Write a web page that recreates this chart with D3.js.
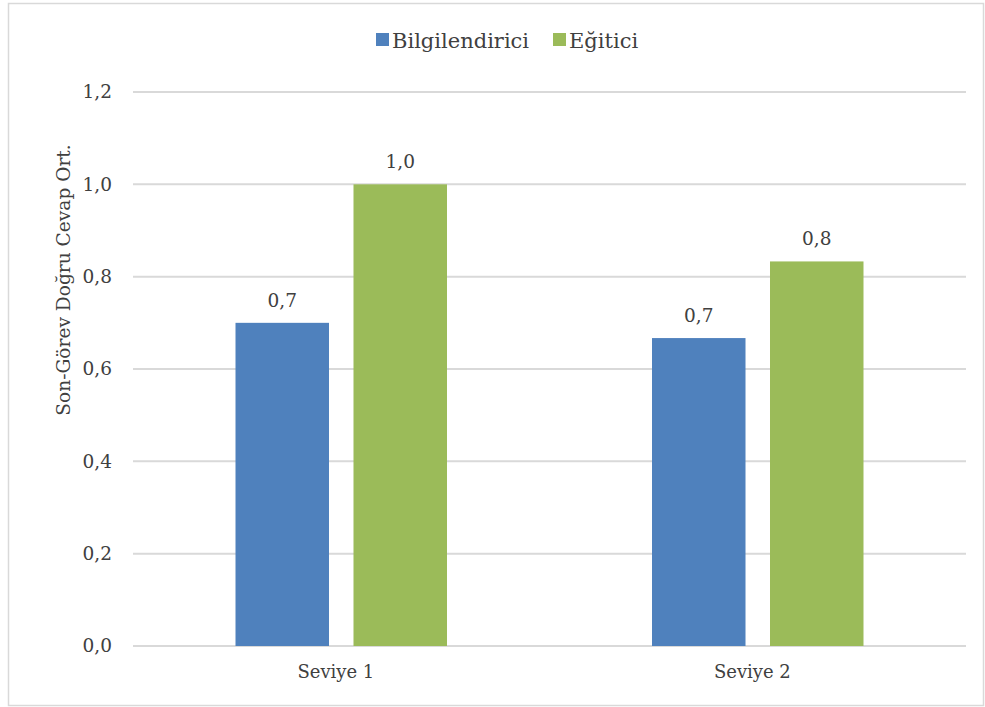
<!DOCTYPE html>
<html>
<head>
<meta charset="utf-8">
<script src="https://cdn.jsdelivr.net/npm/d3@7"></script>
<style>
  body { margin: 0; background: #fff; }
</style>
</head>
<body>
<script>
// data
var categories = ["Seviye 1", "Seviye 2"];
var seriesNames = ["Bilgilendirici", "Eğitici"];
var bilgilendirici = [0.70, 0.667];
var egitici = [1.0, 0.833];
var yTicks = [0, 0.2, 0.4, 0.6, 0.8, 1.0, 1.2];
var colors = ["#4f81bd", "#9bbb59"];

var fontFamily = "'DejaVu Serif', 'Liberation Serif', serif";
var textColor = "#404040";

var svgWidth = 985;
var svgHeight = 707;
var chartMargin = { top: 92, right: 19, bottom: 61, left: 133 };
var chartWidth = svgWidth - chartMargin.left - chartMargin.right;
var chartHeight = svgHeight - chartMargin.top - chartMargin.bottom;

var svg = d3.select("body").append("svg")
    .attr("width", svgWidth)
    .attr("height", svgHeight)
    .style("font-family", fontFamily);

// outer frame
svg.append("rect")
    .attr("x", 8.5).attr("y", 3.5)
    .attr("width", 975).attr("height", 702)
    .attr("fill", "none")
    .attr("stroke", "#d9d9d9")
    .attr("stroke-width", 1.5);

var chartGroup = svg.append("g")
    .attr("transform", `translate(${chartMargin.left}, ${chartMargin.top})`);

var yScale = d3.scaleLinear().domain([0, 1.2]).range([chartHeight, 0]);
var xScale = d3.scaleBand().domain(categories).range([0, chartWidth]);
var xInner = d3.scaleBand().domain(seriesNames)
    .range([0, xScale.bandwidth()]).paddingInner(0.2076).paddingOuter(0.8687);

// gridlines
chartGroup.selectAll(".grid")
    .data(yTicks)
    .enter().append("line")
    .attr("x1", 0).attr("x2", chartWidth)
    .attr("y1", d => yScale(d)).attr("y2", d => yScale(d))
    .attr("stroke", "#d9d9d9")
    .attr("stroke-width", 2);

function styleText(sel, size) {
    sel.attr("font-family", null)
        .style("font-family", fontFamily)
        .style("font-size", (size || 18) + "px")
        .attr("fill", textColor);
}

var fmt = d => d3.format(".1f")(d).replace(".", ",");

// y axis labels
var yAxis = d3.axisLeft(yScale).tickValues(yTicks).tickSize(0).tickPadding(21)
    .tickFormat(fmt);
chartGroup.append("g").call(yAxis)
    .attr("font-family", null)
    .call(g => g.select(".domain").remove())
    .selectAll("text")
    .call(styleText, 18.5);

// x axis labels
var xAxis = d3.axisBottom(xScale).tickSize(0).tickPadding(19);
chartGroup.append("g")
    .attr("transform", `translate(0, ${chartHeight})`)
    .attr("font-family", null)
    .call(xAxis)
    .call(g => g.select(".domain").remove())
    .selectAll("text")
    .attr("dx", "-0.3em")
    .call(styleText, 18);

// y axis title
svg.append("text")
    .attr("transform", "translate(70, 280) rotate(-90)")
    .attr("text-anchor", "middle")
    .call(styleText, 18.6)
    .text("Son-Görev Doğru Cevap Ort.");

var seriesValues = [bilgilendirici, egitici];
var barData = [];
categories.forEach(function (c, i) {
    seriesNames.forEach(function (s, j) {
        barData.push({ cat: c, series: s, value: seriesValues[j][i], color: colors[j] });
    });
});

chartGroup.selectAll(".bar")
    .data(barData)
    .enter().append("rect")
    .attr("class", "bar")
    .attr("x", d => xScale(d.cat) + xInner(d.series))
    .attr("width", xInner.bandwidth())
    .attr("y", d => yScale(d.value))
    .attr("height", d => chartHeight - yScale(d.value))
    .attr("fill", d => d.color);

chartGroup.selectAll(".label")
    .data(barData)
    .enter().append("text")
    .attr("x", d => xScale(d.cat) + xInner(d.series) + xInner.bandwidth() / 2)
    .attr("y", d => yScale(d.value) - 16)
    .attr("text-anchor", "middle")
    .call(styleText, 18.5)
    .text(d => fmt(d.value));

// legend
var legend = svg.append("g").attr("transform", "translate(376, 40)");
var legendX = [0, 177];
seriesNames.forEach(function (s, j) {
    var g = legend.append("g").attr("transform", `translate(${legendX[j]}, 0)`);
    g.append("rect").attr("x", 0).attr("y", -7).attr("width", 13).attr("height", 13).attr("fill", colors[j]);
    g.append("text").attr("x", 16).attr("y", 7.5)
        .call(styleText, 21).text(s);
});
</script>
</body>
</html>
